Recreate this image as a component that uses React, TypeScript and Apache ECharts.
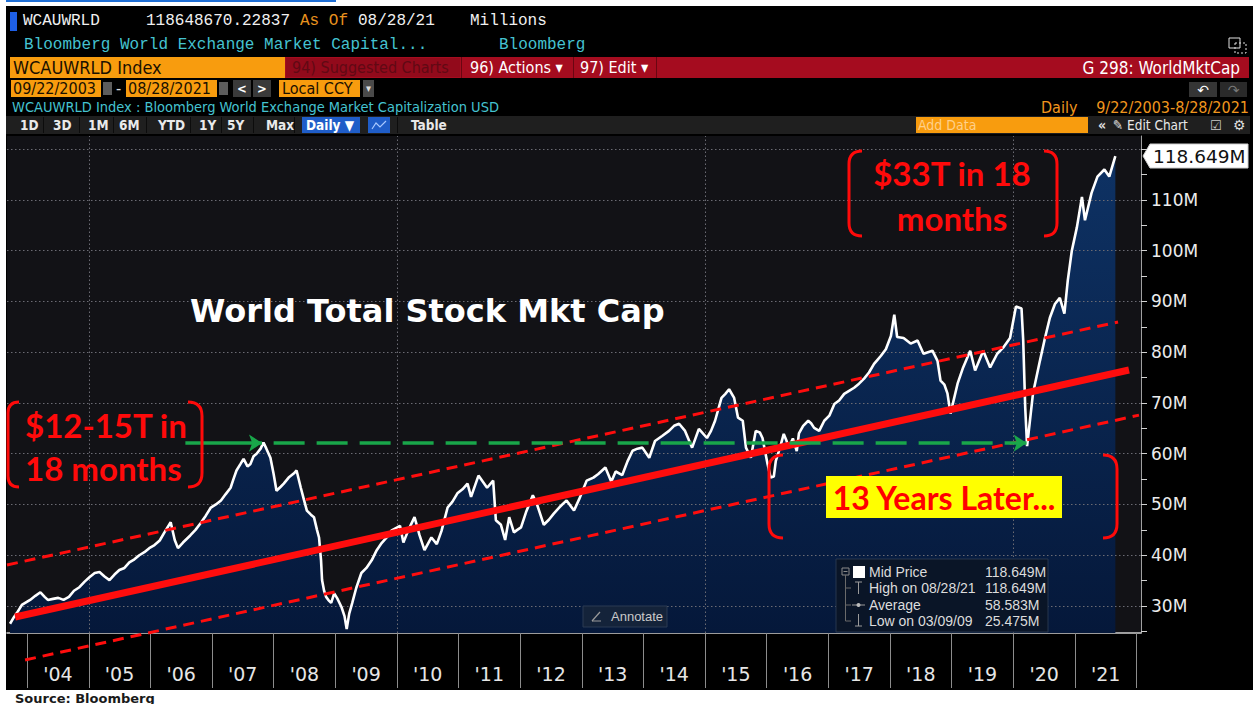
import React, { useEffect, useRef } from 'react';
import * as echarts from 'echarts';

// ---------------- DATA ----------------
const dates = [
  '2003-09-22','2003-10-15','2003-11-01','2003-12-01','2004-01-19','2004-02-19','2004-03-20','2004-04-14','2004-05-03','2004-06-03',
  '2004-07-04','2004-08-04','2004-09-05','2004-10-05','2004-11-06','2004-12-07','2005-01-06','2005-02-05','2005-03-05','2005-04-04',
  '2005-05-03','2005-06-02','2005-07-01','2005-07-31','2005-08-29','2005-09-28','2005-10-27','2005-11-26','2005-12-25','2006-01-25',
  '2006-02-25','2006-03-25','2006-05-01','2006-05-25','2006-06-13','2006-07-13','2006-08-25','2006-09-25','2006-10-25','2006-11-25',
  '2006-12-25','2007-01-24','2007-02-23','2007-03-22','2007-04-21','2007-05-08','2007-05-26','2007-06-19','2007-07-07','2007-07-30',
  '2007-08-17','2007-09-04','2007-09-22','2007-10-16','2007-11-02','2007-11-19','2007-12-13','2008-01-01','2008-01-18','2008-02-12',
  '2008-03-01','2008-03-30','2008-04-29','2008-05-16','2008-06-10','2008-06-28','2008-07-16','2008-08-09','2008-08-27','2008-09-14',
  '2008-09-26','2008-10-08','2008-10-14','2008-10-26','2008-11-07','2008-11-25','2008-12-07','2008-12-25','2009-01-12','2009-02-06',
  '2009-02-24','2009-03-09','2009-03-24','2009-04-11','2009-05-04','2009-06-04','2009-07-04','2009-08-04','2009-09-03','2009-10-02',
  '2009-11-01','2009-12-01','2010-01-19','2010-02-08','2010-03-10','2010-04-15','2010-05-14','2010-06-13','2010-07-24','2010-08-25',
  '2010-09-22','2010-10-28','2010-11-25','2010-12-25','2011-01-24','2011-02-23','2011-03-16','2011-04-29','2011-06-19','2011-07-25',
  '2011-08-10','2011-09-09','2011-10-04','2011-10-28','2011-11-25','2011-12-15','2012-01-06','2012-02-05','2012-03-16','2012-04-10',
  '2012-05-20','2012-06-19','2012-07-18','2012-08-22','2012-10-02','2012-11-15','2012-12-15','2013-01-29','2013-03-10','2013-04-08',
  '2013-05-20','2013-06-24','2013-07-20','2013-08-28','2013-09-28','2013-10-28','2013-11-26','2013-12-25','2014-02-04','2014-03-10',
  '2014-04-21','2014-06-01','2014-07-01','2014-07-31','2014-09-04','2014-10-16','2014-11-25','2015-01-12','2015-02-05','2015-03-01',
  '2015-04-08','2015-05-01','2015-05-23','2015-06-22','2015-07-15','2015-08-12','2015-08-31','2015-09-29','2015-10-28','2015-11-21',
  '2015-12-07','2016-01-06','2016-01-24','2016-02-12','2016-02-24','2016-03-18','2016-04-11','2016-04-28','2016-05-10','2016-06-04',
  '2016-06-27','2016-07-10','2016-08-04','2016-09-03','2016-09-20','2016-10-08','2016-11-07','2016-12-07','2017-01-06','2017-02-05',
  '2017-03-05','2017-04-04','2017-05-03','2017-06-02','2017-07-01','2017-07-31','2017-08-29','2017-09-28','2017-10-21','2017-11-08',
  '2017-12-07','2018-01-06','2018-01-26','2018-02-12','2018-03-22','2018-05-03','2018-06-13','2018-07-18','2018-09-09','2018-10-09',
  '2018-10-27','2018-11-19','2018-12-07','2018-12-25','2019-02-05','2019-03-10','2019-04-21','2019-05-20','2019-07-07','2019-08-17',
  '2019-09-28','2019-11-02','2019-12-13','2020-01-17','2020-02-19','2020-02-29','2020-03-12','2020-03-23','2020-04-27','2020-06-07',
  '2020-07-07','2020-08-05','2020-09-04','2020-10-03','2020-10-30','2020-11-19','2020-12-13','2021-01-12','2021-02-11','2021-03-01',
  '2021-04-09','2021-05-14','2021-06-24','2021-07-23','2021-08-28',
];
const mktCap = [
  26.5,27.8,28.6,30.2,31.2,32.0,32.7,31.8,31.2,31.4,
  31.6,31.2,31.8,33.0,33.7,34.8,35.7,36.5,36.7,35.8,
  35.1,36.2,37.1,37.5,38.6,39.2,40.0,40.6,41.4,42.0,
  42.9,44.5,46.5,43.0,41.4,42.5,43.9,45.0,46.3,47.8,
  49.4,50.0,50.8,52.0,53.3,55.0,56.7,58.0,59.0,57.5,
  58.0,59.5,60.0,61.0,62.2,61.0,59.2,56.0,52.7,53.5,
  54.1,55.3,56.1,56.7,53.3,51.0,48.8,48.0,47.5,45.0,
  43.5,39.0,35.1,33.0,31.8,31.0,30.6,32.5,31.5,29.8,
  28.0,25.475,28.5,30.6,33.5,36.5,37.5,39.0,41.0,42.4,
  43.5,44.9,45.8,42.5,45.0,47.5,44.0,41.0,43.5,42.2,
  44.8,49.4,50.5,52.2,53.0,54.1,51.5,55.7,53.3,54.7,
  46.9,46.0,43.0,47.5,44.5,45.0,45.5,48.5,51.8,50.0,
  46.0,47.0,48.2,49.5,50.8,48.8,51.0,54.7,55.3,56.0,
  57.3,54.5,56.5,55.8,58.5,60.6,61.0,61.2,59.2,62.5,
  63.5,64.5,65.5,65.9,64.5,61.2,64.9,63.1,64.5,66.5,
  71.0,71.8,72.7,71.0,67.1,66.5,61.2,59.2,64.5,64.2,
  63.1,58.0,55.3,55.5,58.6,61.0,63.9,62.5,61.2,63.0,
  60.5,64.0,65.5,66.5,66.0,65.1,64.5,66.5,67.5,69.8,
  70.5,71.8,72.4,73.0,73.8,74.8,76.0,77.7,78.6,79.3,
  80.6,83.2,87.4,83.0,82.8,81.7,82.3,79.7,80.3,78.3,
  74.4,73.6,71.9,67.9,73.8,77.0,80.3,76.4,80.3,77.0,
  79.7,80.9,82.8,89.0,88.6,82.3,69.0,61.5,71.9,78.3,
  82.8,86.8,89.5,90.7,87.6,94.1,100.0,104.6,110.6,106.0,
  111.4,114.6,116.0,114.6,118.649,
];

// hand-drawn trend channel (two end points each)
const trendDates = ['2003-10-22', '2021-11-17'];
const trendValues = [27.83, 76.5];
const upperDates = ['2003-09-04', '2021-09-13'];
const upperValues = [38.08, 85.96];
const lowerDates = ['2003-12-20', '2022-01-15'];
const lowerValues = [19.36, 67.6];

// green "previous peak" arrows
const prevPeak = 62.1;
const arrowShortDates = ['2006-07-27', '2007-10-24'];
const arrowLongDates = ['2008-01-01', '2020-03-20'];

// axes
const axisRange = ['2003-09-04', '2022-01-27'];
const yMin = 24.68;
const yMax = 122.6;
const yLabelValues = [30, 40, 50, 60, 70, 80, 90, 100, 110];
const yTickValues = [25, 30, 35, 40, 45, 50, 55, 60, 65, 70, 75, 80, 85, 90, 95, 100, 105, 110, 115, 120];
const yGridValues = [30, 40, 50, 60, 70, 80, 90, 100, 110, 120];
const yearTicks = [2004, 2005, 2006, 2007, 2008, 2009, 2010, 2011, 2012, 2013, 2014, 2015, 2016, 2017, 2018, 2019, 2020, 2021, 2022];
const yearLabels = [2004, 2005, 2006, 2007, 2008, 2009, 2010, 2011, 2012, 2013, 2014, 2015, 2016, 2017, 2018, 2019, 2020, 2021];
const gridYears = [2005, 2010, 2015, 2020];

// legend stats
const statLabels = ['Mid Price', 'High on 08/28/21', 'Average', 'Low on 03/09/09'];
const statValues = ['118.649M', '118.649M', '58.583M', '25.475M'];
const lastValueLabel = '118.649M';

// ---------------- HELPERS ----------------
const ts = (s: string) => {
  const [y, m, d] = s.split('-').map(Number);
  return new Date(y, m - 1, d).getTime();
};

const COND = '"DejaVu Sans Condensed", "DejaVu Sans", sans-serif';
const MONO = '"Liberation Mono", "DejaVu Sans Mono", monospace';
const SANS = '"Liberation Sans", Arial, sans-serif';

function txt(text: string, x: number, y: number, fill: string, font: string, align = 'left', z = 10) {
  return {
    type: 'text', x, y, z, silent: true,
    style: { text, fill, font, align, verticalAlign: 'middle', textAlign: align, textVerticalAlign: 'middle' },
  };
}
function box(x: number, y: number, w: number, h: number, fill: string, z = 5, stroke?: string) {
  return {
    type: 'rect', z, silent: true,
    shape: { x, y, width: w, height: h },
    style: { fill, stroke: stroke || null, lineWidth: stroke ? 1 : 0 },
  };
}
function seg(x1: number, y1: number, x2: number, y2: number, stroke: string, w = 1, z = 100) {
  return { type: 'line', z, silent: true, shape: { x1, y1, x2, y2 }, style: { stroke, lineWidth: w } };
}

function bracketPath(xl: number, xr: number, y1: number, y2: number, armL: number, armR: number) {
  return `M${xl + armL} ${y1} Q${xl} ${y1} ${xl} ${y1 + armL} L${xl} ${y2 - armL} Q${xl} ${y2} ${xl + armL} ${y2} ` +
    `M${xr - armR} ${y1} Q${xr} ${y1} ${xr} ${y1 + armR} L${xr} ${y2 - armR} Q${xr} ${y2} ${xr - armR} ${y2}`;
}
echarts.graphic.registerShape('bracket33', echarts.graphic.extendPath(bracketPath(849, 1057, 151, 236, 13, 13), {}));
echarts.graphic.registerShape('bracket12', echarts.graphic.extendPath(bracketPath(8, 202, 402, 487, 11, 14), {}));
echarts.graphic.registerShape('bracket13', echarts.graphic.extendPath(bracketPath(769, 1117, 455, 538, 14, 14), {}));

function buildOption() {
  const seriesData = dates.map((d, i) => [ts(d), mktCap[i]]);
  const orange = '#f89c0e';
  const cyan = '#45c3d1';
  const white = '#f0f0f0';
  const redAnn = '#ff0a0a';

  const header: any[] = [
    box(0, 0, 1253, 6, '#ffffff'),
    box(0, 0, 6, 704, '#ffffff'),
    box(0, 690, 1253, 14, '#ffffff'),
    box(6, 0, 330, 2, '#1f6fd6'),
    // row 1
    box(10, 12, 7, 19, '#1e5fe6'),
    txt('WCAUWRLD', 23, 21, white, `16px ${MONO}`),
    txt('118648670.22837', 146, 21, white, `16px ${MONO}`),
    txt('As Of', 300, 21, '#e8921e', `16px ${MONO}`),
    txt('08/28/21', 358, 21, white, `16px ${MONO}`),
    txt('Millions', 470, 21, white, `16px ${MONO}`),
    // row 2
    txt('Bloomberg World Exchange Market Capital...', 24, 45, cyan, `16px ${MONO}`),
    txt('Bloomberg', 499, 45, cyan, `16px ${MONO}`),
    box(1229, 38, 11, 10, 'none', 5, '#e0e0e0'),
    { type: 'rect', z: 5, silent: true, shape: { x: 1235, y: 43, width: 11, height: 10 }, style: { fill: 'none', stroke: '#e0e0e0', lineWidth: 1, lineDash: [2, 2] } },
    // row 3
    box(10, 57, 275, 21, orange),
    txt('WCAUWRLD Index', 13, 67.5, '#1a1000', `18px ${COND}`),
    box(285, 57, 964, 21, '#a50c1f'),
    box(286, 58, 174, 19, '#920a1b'),
    txt('94) Suggested Charts', 292, 67.5, '#600914', `16px ${COND}`),
    box(461, 57, 1, 21, '#6a0612'),
    box(573, 57, 1, 21, '#6a0612'),
    box(656, 57, 1, 21, '#6a0612'),
    txt('96) Actions ▾', 470, 67.5, '#ffffff', `16px ${COND}`),
    txt('97) Edit ▾', 580, 67.5, '#ffffff', `16px ${COND}`),
    txt('G 298: WorldMktCap', 1240, 67.5, '#ffffff', `17px ${COND}`, 'right'),
    // row 4
    box(11, 80, 90, 17, orange),
    txt('09/22/2003', 13, 88.5, '#1a1000', `16px ${COND}`),
    box(103, 82, 9, 13, '#5c5c5c'),
    txt('-', 116, 88.5, '#e0e0e0', `16px ${COND}`),
    box(126, 80, 91, 17, orange),
    txt('08/28/2021', 128, 88.5, '#1a1000', `16px ${COND}`),
    box(219, 82, 9, 13, '#5c5c5c'),
    box(233, 80, 18, 17, '#3a3a3a'),
    txt('<', 242, 88.5, '#ffffff', `bold 13px ${COND}`, 'center'),
    box(253, 80, 18, 17, '#3a3a3a'),
    txt('>', 262, 88.5, '#ffffff', `bold 13px ${COND}`, 'center'),
    box(279, 80, 81, 17, orange),
    txt('Local CCY', 282, 88.5, '#1a1000', `16px ${COND}`),
    box(363, 80, 11, 17, '#4a4a4a'),
    txt('▾', 368.5, 88.5, '#dddddd', `11px ${COND}`, 'center'),
    box(1189, 82, 28, 15, '#353535'),
    txt('↶', 1203, 89.5, '#ffffff', `14px "DejaVu Sans"`, 'center'),
    box(1220, 82, 27, 15, '#2a2a2a'),
    txt('↷', 1233.5, 89.5, '#777777', `14px "DejaVu Sans"`, 'center'),
    // row 5
    txt('WCAUWRLD Index : Bloomberg World Exchange Market Capitalization USD', 12, 107, cyan, `14.5px ${COND}`),
    txt('Daily', 1041, 107, '#f0961e', `16px ${COND}`),
    txt('9/22/2003-8/28/2021', 1249, 107, '#f0961e', `16px ${COND}`, 'right'),
    // row 6
    box(6, 116, 1244, 18, '#1f1f1f'),
    box(302, 117, 58, 16, '#1f5dc8'),
    txt('Daily ▼', 306, 125, '#ffffff', `bold 13.5px ${COND}`),
    box(368, 117, 22, 16, '#1f5dc8'),
    { type: 'polyline', z: 6, silent: true, shape: { points: [[372, 129], [376, 123], [380, 127], [386, 121]] }, style: { stroke: '#a8c8ff', lineWidth: 1.2, fill: 'none' } },
    txt('Table', 411, 125, '#e8e8e8', `bold 13.5px ${COND}`),
    box(916, 117, 172, 16, orange),
    txt('Add Data', 918, 125, '#ffd08a', `14px ${COND}`),
    txt('«', 1098, 125, '#e0e0e0', `bold 14px ${COND}`),
    txt('✎ Edit Chart', 1113, 125, '#e8e8e8', `13.5px ${COND}`),
    txt('☑', 1210, 125, '#cccccc', `13px "DejaVu Sans"`),
    txt('⚙', 1233, 125, '#dddddd', `14px "DejaVu Sans"`),
    // source
    txt('Source: Bloomberg', 15, 698, '#1a1a1a', `bold 13px "DejaVu Sans"`),
  ];
  const rangeButtons: [string, number][] = [['1D', 20], ['3D', 53], ['1M', 88], ['6M', 119], ['YTD', 158], ['1Y', 199], ['5Y', 227], ['Max', 266]];
  rangeButtons.forEach(([t, x]) => header.push(txt(t, x, 125, '#eaeaea', `bold 13.5px ${COND}`)));
  [43, 79, 113, 146, 190, 221, 253, 294, 397].forEach((x) => header.push(box(x, 117, 1, 16, '#0c0c0c', 6)));

  const overlay: any[] = [
    txt('World Total Stock Mkt Cap', 190, 311, '#ffffff', `bold 32px "DejaVu Sans"`, 'left', 100),
    txt('$33T in 18', 952, 173, redAnn, `bold 33px Lato`, 'center', 100),
    txt('months', 952, 218, redAnn, `bold 33px Lato`, 'center', 100),
    { type: 'bracket33', z: 100, silent: true, style: { fill: 'none', stroke: redAnn, lineWidth: 3 } },
    txt('$12-15T in', 25, 425, redAnn, `bold 33px Lato`, 'left', 100),
    txt('18 months', 25, 468, redAnn, `bold 33px Lato`, 'left', 100),
    { type: 'bracket12', z: 100, silent: true, style: { fill: 'none', stroke: redAnn, lineWidth: 3 } },
    box(826, 476, 236, 42, '#ffff00', 100),
    txt('13 Years Later...', 944, 497, '#ff0000', `bold 32px Lato`, 'center', 101),
    { type: 'bracket13', z: 100, silent: true, style: { fill: 'none', stroke: redAnn, lineWidth: 3 } },
    box(836, 559, 212, 73, '#0a1527', 100, '#27364e'),
    { type: 'rect', z: 101, silent: true, shape: { x: 842, y: 568, width: 7, height: 7 }, style: { fill: 'none', stroke: '#8a8a8a', lineWidth: 1 } },
    seg(843.5, 571.5, 847.5, 571.5, '#8a8a8a', 1, 101),
    box(853, 566, 12, 12, '#ffffff', 101),
    seg(845.5, 575, 845.5, 621, '#6a6a6a', 1, 101),
    seg(845.5, 588, 851, 588, '#6a6a6a', 1, 101),
    seg(845.5, 605, 851, 605, '#6a6a6a', 1, 101),
    seg(845.5, 621, 851, 621, '#6a6a6a', 1, 101),
    seg(858.5, 582, 858.5, 594, '#9a9a9a', 1, 101),
    seg(855, 582, 862, 582, '#9a9a9a', 1, 101),
    seg(852, 605, 865, 605, '#9a9a9a', 1, 101),
    { type: 'circle', z: 101, silent: true, shape: { cx: 858.5, cy: 605, r: 2 }, style: { fill: '#bbbbbb' } },
    seg(858.5, 614, 858.5, 626, '#9a9a9a', 1, 101),
    seg(855, 626, 862, 626, '#9a9a9a', 1, 101),
    box(583, 606, 84, 21, '#14233a', 100, '#2b3a52'),
    seg(592, 621, 600, 612, '#9a9a9a', 1.2, 101),
    seg(592, 621, 601, 621, '#9a9a9a', 1, 101),
    txt('Annotate', 611, 616.5, '#c9c9c9', `13px ${SANS}`, 'left', 101),
    { type: 'polygon', z: 100, silent: true, shape: { points: [[1143, 156], [1150, 144], [1248, 144], [1248, 168], [1150, 168]] }, style: { fill: '#ffffff', stroke: '#cfcfcf', lineWidth: 1 } },
    txt(lastValueLabel, 1153, 156.5, '#111111', `18.5px "DejaVu Sans"`, 'left', 101),
  ];
  const rowY = [572, 588, 604.5, 620.5];
  statLabels.forEach((s, i) => {
    overlay.push(txt(s, 869, rowY[i], '#dcdcdc', `14px ${SANS}`, 'left', 101));
    overlay.push(txt(statValues[i], 985, rowY[i], '#dcdcdc', `14px ${SANS}`, 'left', 101));
  });

  const redLine = '#ff0d0d';
  const green = '#19a64a';

  return {
    backgroundColor: '#000000',
    animation: false,
    grid: {
      left: 7, right: 112, top: 136, bottom: 71, show: true,
      backgroundColor: '#121216', borderWidth: 0, containLabel: false, outerBoundsMode: 'none',
    },
    xAxis: {
      type: 'value',
      min: ts(axisRange[0]),
      max: ts(axisRange[1]),
      axisLine: { show: true, lineStyle: { color: '#cfcfcf', width: 1.5 } },
      axisTick: {
        show: true, inside: false, length: 55,
        customValues: yearTicks.map((y) => ts(`${y}-01-01`)),
        lineStyle: { color: '#8c8c8c', width: 1 },
      },
      axisLabel: {
        show: true, margin: 31,
        customValues: yearLabels.map((y) => ts(`${y}-07-02`)),
        formatter: (v: number) => "'" + String(new Date(v).getFullYear()).slice(2),
        color: '#e6e6e6', fontSize: 19, fontFamily: 'DejaVu Sans',
      },
      splitLine: { show: false },
    },
    yAxis: {
      type: 'value', position: 'right', min: yMin, max: yMax,
      axisLine: { show: true, lineStyle: { color: '#a0a0a0', width: 1 } },
      axisTick: { show: true, length: 6, customValues: yTickValues, lineStyle: { color: '#d0d0d0' } },
      axisLabel: {
        show: true, margin: 10, customValues: yLabelValues,
        formatter: (v: number) => `${v}M`,
        color: '#ececec', fontSize: 17, fontFamily: 'DejaVu Sans',
      },
      splitLine: { show: false },
    },
    series: [
      {
        type: 'line', name: 'area', data: seriesData, symbol: 'none', showSymbol: false, z: 1, silent: true,
        lineStyle: { width: 0 },
        areaStyle: {
          origin: 'start', opacity: 1,
          color: new echarts.graphic.LinearGradient(0, 0, 0, 1, [
            { offset: 0, color: '#0e3264' },
            { offset: 1, color: '#05183a' },
          ]),
        },
        emphasis: { disabled: true },
        markLine: {
          silent: true, z: 2, symbol: ['none', 'none'], animation: false,
          label: { show: false },
          emphasis: { disabled: true },
          lineStyle: { color: '#6b6b73', type: [1.5, 2.5], width: 1 },
          data: [
            ...yGridValues.map((v) => ({ yAxis: v })),
            ...gridYears.map((y) => ({ xAxis: ts(`${y}-01-01`) })),
          ],
        },
      },
      {
        type: 'line', name: 'WCAUWRLD', data: seriesData, symbol: 'none', showSymbol: false, z: 3, silent: true,
        lineStyle: { color: '#ffffff', width: 2.6 },
        emphasis: { disabled: true },
      },
      {
        type: 'line', name: 'trend', data: trendDates.map((d, i) => [ts(d), trendValues[i]]),
        symbol: 'none', z: 4, clip: false, silent: true,
        lineStyle: { color: redLine, width: 7 },
        emphasis: { disabled: true },
      },
      {
        type: 'line', name: 'upper', data: upperDates.map((d, i) => [ts(d), upperValues[i]]),
        symbol: 'none', z: 4, clip: false, silent: true,
        lineStyle: { color: redLine, width: 3, type: [11, 7] },
        emphasis: { disabled: true },
        markLine: {
          silent: true, z: 5, symbol: ['none', 'arrow'], symbolSize: 13, animation: false,
          label: { show: false },
          emphasis: { disabled: true },
          lineStyle: { color: green, width: 3.5, type: [31, 12] },
          data: [
            [
              { coord: [ts(arrowShortDates[0]), prevPeak], lineStyle: { color: green, width: 3.5, type: 'solid' } },
              { coord: [ts(arrowShortDates[1]), prevPeak] },
            ],
            [
              { coord: [ts(arrowLongDates[0]), prevPeak], lineStyle: { color: green, width: 3.5, type: [31, 12] } },
              { coord: [ts(arrowLongDates[1]), prevPeak] },
            ],
          ],
        },
      },
      {
        type: 'line', name: 'lower', data: lowerDates.map((d, i) => [ts(d), lowerValues[i]]),
        symbol: 'none', z: 4, clip: false, silent: true,
        lineStyle: { color: redLine, width: 3, type: [11, 7] },
        emphasis: { disabled: true },
      },
    ],
    graphic: { elements: [...header, ...overlay] },
  };
}

export default function App() {
  const ref = useRef<HTMLDivElement>(null);
  useEffect(() => {
    if (!ref.current) return;
    const chart = echarts.init(ref.current, null, { renderer: 'svg' });
    chart.setOption(buildOption() as any);
    return () => chart.dispose();
  }, []);
  return (
    <div
      ref={ref}
      style={{ position: 'fixed', left: 0, top: 0, width: 1253, height: 704, background: '#ffffff' }}
    />
  );
}
